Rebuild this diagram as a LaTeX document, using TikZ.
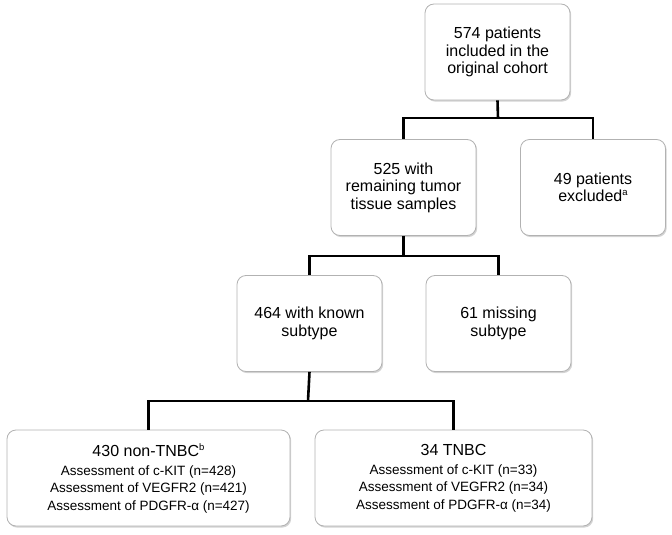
\documentclass[tikz,border=0pt]{standalone}
\usepackage{fontspec}
\setmainfont{Liberation Sans}
\usetikzlibrary{shadows}
\newcommand{\supmark}[1]{\raisebox{0.38em}{\fontsize{9.5}{9.5}\selectfont #1}}

\begin{document}
\begin{tikzpicture}[x=1pt,y=-1pt,
  box/.style={draw=gray!60, line width=0.8pt, fill=white, rounded corners=9pt,
    drop shadow={shadow xshift=1.2pt, shadow yshift=-1.6pt, opacity=0.35},
    align=center, minimum width=145pt, minimum height=96pt,
    font=\fontsize{16}{17.5}\selectfont},
  wide/.style={box, minimum width=280pt},
  link/.style={line width=2.6pt}]
  \useasboundingbox (0,0) rectangle (672,535);
  % boxes
  \node[box] (all) at (497.5,52) {574 patients\\included in the\\original cohort};
  \node[box] (kept) at (403.5,187.5) {525 with\\remaining tumor\\tissue samples};
  \node[box] (excl) at (593,187.5) {49 patients\\excluded\supmark{a}};
  \node[box] (known) at (309.5,323.5) {464 with known\\subtype};
  \node[box] (miss) at (498.5,323.5) {61 missing\\subtype};
  \node[wide, minimum width=283pt] (non) at (148.5,478) {430 non-TNBC\supmark{b}\\[1.5pt]
    {\fontsize{13.5}{18.3}\selectfont Assessment of c-KIT (n=428)}\\
    {\fontsize{13.5}{18.3}\selectfont Assessment of VEGFR2 (n=421)}\\
    {\fontsize{13.5}{18.3}\selectfont Assessment of PDGFR-α (n=427)}};
  \node[wide, minimum width=277pt] (tnbc) at (453.5,478) {34 TNBC\\[1.5pt]
    {\fontsize{13.5}{18.3}\selectfont Assessment of c-KIT (n=33)}\\
    {\fontsize{13.5}{18.3}\selectfont Assessment of VEGFR2 (n=34)}\\
    {\fontsize{13.5}{18.3}\selectfont Assessment of PDGFR-α (n=34)}};
  % connectors
  \coordinate (j1) at (498,118);
  \coordinate (j2) at (403.5,256);
  \coordinate (j3) at (308,401);
  \draw[link] (all.south) -- (j1);
  \draw[link] (j1) -| (kept.north);
  \draw[link] (j1) -| (excl.north);
  \draw[link] (kept.south) -- (j2);
  \draw[link] (j2) -| (known.north);
  \draw[link] (j2) -| (miss.north);
  \draw[link] (known.south) -- (j3);
  \draw[link] (j3) -| (non.north);
  \draw[link] (j3) -| (tnbc.north);
\end{tikzpicture}
\end{document}
